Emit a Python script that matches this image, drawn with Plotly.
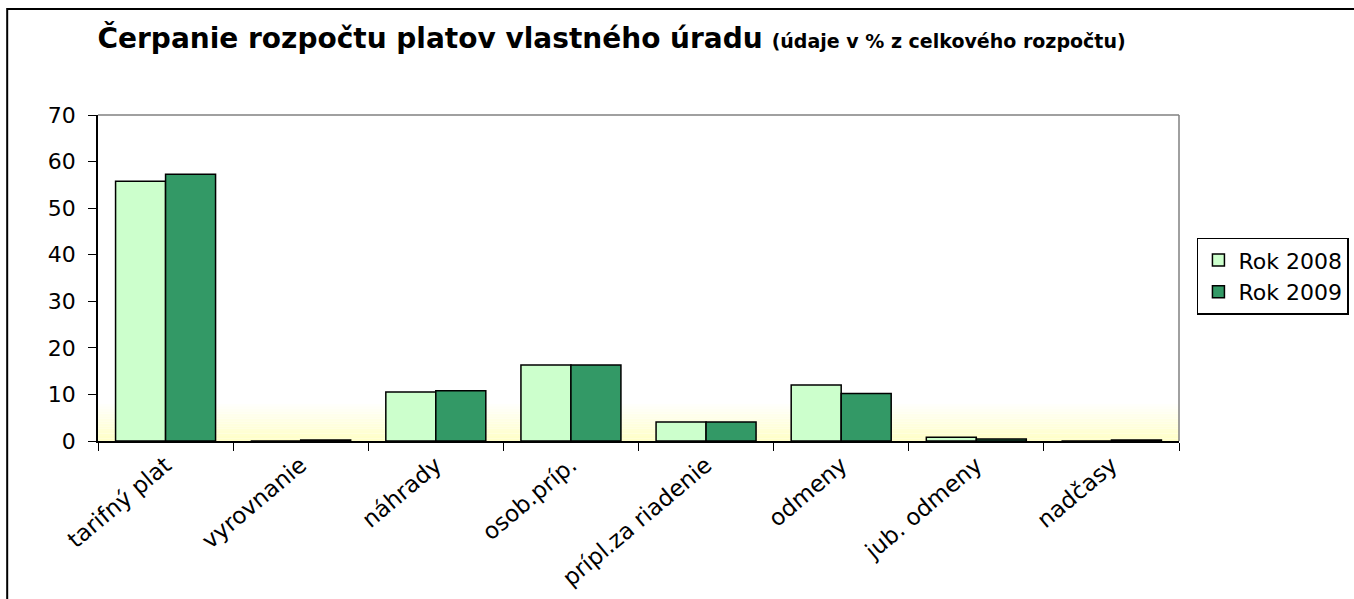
import plotly.graph_objects as go

categories = ["tarifný plat", "vyrovnanie", "náhrady", "osob.príp.",
              "prípl.za riadenie", "odmeny", "jub. odmeny", "nadčasy"]
rok_2008 = [55.8, 0.0, 10.5, 16.3, 4.1, 12.0, 0.8, 0.0]
rok_2009 = [57.3, 0.2, 10.8, 16.3, 4.1, 10.2, 0.45, 0.2]

FONT = "DejaVu Sans, Liberation Sans, Arial"

fig = go.Figure()
fig.add_trace(go.Bar(x=categories, y=rok_2008, name="Rok 2008",
                     marker=dict(color="#CCFFCC", line=dict(color="black", width=1.5))))
fig.add_trace(go.Bar(x=categories, y=rok_2009, name="Rok 2009",
                     marker=dict(color="#339966", line=dict(color="black", width=1.5))))

# soft yellow gradient at the bottom of the plot area
shapes = []
n = 16
for i in range(n):
    t = i / (n - 1)
    b = int(200 + (255 - 200) * t)
    shapes.append(dict(type="rect", xref="paper", yref="y", x0=0, x1=1,
                       y0=8.5 * i / n, y1=8.5 * (i + 1) / n,
                       fillcolor=f"rgb(255,255,{b})", line=dict(width=0), layer="below"))
# plot area frame (top and right in grey)
shapes.append(dict(type="line", xref="paper", yref="paper", x0=0, x1=1, y0=1, y1=1,
                   line=dict(color="#808080", width=1.5)))
shapes.append(dict(type="line", xref="paper", yref="paper", x0=1, x1=1, y0=0, y1=1,
                   line=dict(color="#808080", width=1.5)))
# outer chart border
shapes.append(dict(type="rect", xref="paper", yref="paper", x0=-0.084, x1=1.3,
                   y0=-0.7, y1=1.325, line=dict(color="black", width=2)))

fig.update_layout(
    width=1354, height=599,
    margin=dict(l=98, r=175, t=115, b=158),
    paper_bgcolor="white", plot_bgcolor="white",
    font=dict(family=FONT, color="black"),
    title=dict(
        text="<b>Čerpanie rozpočtu platov vlastného úradu</b> "
             "<b><span style='font-size:19px'>(údaje v % z celkového rozpočtu)</span></b>",
        x=0.072, xanchor="left", y=0.937, yanchor="middle",
        font=dict(size=28, color="black")),
    barmode="group", bargap=0.26, bargroupgap=0,
    showlegend=True,
    legend=dict(xref="container", yref="container", x=0.884, xanchor="left",
                y=0.603, yanchor="top",
                bordercolor="black", borderwidth=1.5, bgcolor="white",
                font=dict(size=22), tracegroupgap=0, itemwidth=30),
    shapes=shapes,
)
fig.update_xaxes(showline=True, linecolor="black", linewidth=1.5, automargin=False,
                 ticks="outside", tickson="boundaries", ticklen=8, tickcolor="black",
                 tickangle=-40, tickfont=dict(size=23), showgrid=False)
fig.update_yaxes(range=[0, 70], dtick=10, showline=True, linecolor="black", linewidth=1.5,
                 automargin=False,
                 ticks="outside", ticklen=8, tickcolor="black", tickfont=dict(size=22),
                 ticklabelstandoff=8, showgrid=False, zeroline=False)

fig.write_html("out.html", config={"displayModeBar": False},
               post_script="document.body.style.margin='0';")
